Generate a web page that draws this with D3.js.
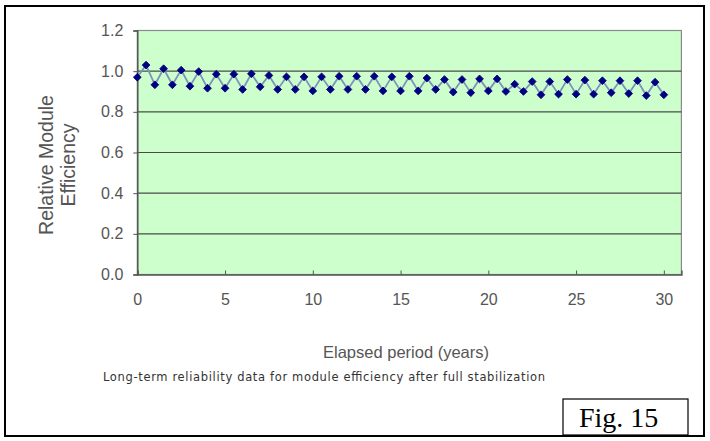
<!DOCTYPE html>
<html>
<head>
<meta charset="utf-8">
<script src="https://cdn.jsdelivr.net/npm/d3@7"></script>
<style>
  html, body { margin: 0; padding: 0; background: #fff; }
  svg { display: block; }
</style>
</head>
<body>
<svg id="chart" width="710" height="441"></svg>
<script>
// ---- data ----
const years = [0,0.5,1,1.5,2,2.5,3,3.5,4,4.5,5,5.5,6,6.5,7,7.5,8,8.5,9,9.5,10,10.5,11,11.5,12,12.5,13,13.5,14,14.5,15,15.5,16,16.5,17,17.5,18,18.5,19,19.5,20,20.5,21,21.5,22,22.5,23,23.5,24,24.5,25,25.5,26,26.5,27,27.5,28,28.5,29,29.5,30];
const efficiency = [0.97,1.03,0.933,1.012,0.933,1.005,0.926,0.998,0.916,0.985,0.916,0.985,0.91,0.987,0.923,0.979,0.91,0.972,0.91,0.972,0.903,0.972,0.91,0.975,0.91,0.975,0.91,0.975,0.903,0.972,0.903,0.975,0.903,0.966,0.91,0.959,0.897,0.959,0.894,0.962,0.903,0.962,0.90,0.936,0.90,0.949,0.884,0.949,0.887,0.959,0.887,0.956,0.887,0.953,0.894,0.953,0.89,0.953,0.88,0.946,0.884];
const yTicks = [0,0.2,0.4,0.6,0.8,1.0,1.2];
const xTicks = [0,5,10,15,20,25,30];
const yTitleLines = ["Relative Module","Efficiency"];
const xTitle = "Elapsed period (years)";
const caption = "Long-term reliability data for module efficiency after full stabilization";
const figLabel = "Fig. 15";

// ---- layout ----
const svg = d3.select("#chart");
const plot = {left: 137.3, right: 681.4, top: 30.5, bottom: 274.5};
const x = d3.scaleLinear().domain([0,31]).range([plot.left, plot.right]);
const y = d3.scaleLinear().domain([0,1.2]).range([plot.bottom, plot.top]);

// outer frame
svg.append("rect").attr("x",5).attr("y",6).attr("width",699).attr("height",430)
  .attr("fill","#fff").attr("stroke","#000").attr("stroke-width",2);

// plot background
svg.append("rect").attr("x",plot.left).attr("y",plot.top)
  .attr("width",plot.right-plot.left).attr("height",plot.bottom-plot.top)
  .attr("fill","#ccffcc").attr("stroke","#8a8a8a").attr("stroke-width",1.2);

// gridlines
svg.append("g").selectAll("line").data(yTicks.filter(d=>d>0 && d<1.2)).join("line")
  .attr("x1",plot.left).attr("x2",plot.right)
  .attr("y1",d=>y(d)).attr("y2",d=>y(d))
  .attr("stroke","#4a4a4a").attr("stroke-width",1.2);

// y axis
const yAxis = d3.axisLeft(y).tickValues(yTicks).tickFormat(d3.format(".1f")).tickSize(4).tickPadding(10);
const gy = svg.append("g").attr("transform",`translate(${plot.left},0)`).call(yAxis);
gy.select(".domain").attr("stroke","#555").attr("stroke-width",1.5);
gy.selectAll(".tick line").attr("stroke","#555");
gy.selectAll(".tick text").attr("font-family","Liberation Sans, Arial, sans-serif")
  .attr("font-size",16).attr("fill","#555");

// x axis
const xAxis = d3.axisBottom(x).tickValues(xTicks).tickFormat(d3.format("d")).tickSize(-4).tickPadding(19);
const gx = svg.append("g").attr("transform",`translate(0,${plot.bottom})`).call(xAxis);
gx.select(".domain").attr("stroke","#555").attr("stroke-width",1.5);
gx.selectAll(".tick line").attr("stroke","#555");
gx.selectAll(".tick text").attr("font-family","Liberation Sans, Arial, sans-serif")
  .attr("font-size",16).attr("fill","#555");

// line
const line = d3.line().x((d,i)=>x(years[i])).y(d=>y(d));
svg.append("path").datum(efficiency).attr("d",line)
  .attr("fill","none").attr("stroke","#7d92bb").attr("stroke-width",1.8);

// markers (diamonds = rotated squares)
const sym = d3.symbol().type(d3.symbolSquare).size(30);
svg.append("g").selectAll("path").data(efficiency).join("path")
  .attr("d",sym)
  .attr("transform",(d,i)=>`translate(${x(years[i])},${y(d)}) rotate(45)`)
  .attr("fill","#000080").attr("stroke","#000080").attr("stroke-width",0.8)
  .attr("stroke-linejoin","round");

// y title
const yt = svg.append("text").attr("transform","translate(58,165) rotate(-90)")
  .attr("text-anchor","middle").attr("font-family","Liberation Sans, Arial, sans-serif")
  .attr("font-size",19.5).attr("fill","#555");
yTitleLines.forEach((t,i)=>{
  yt.append("tspan").attr("x",0).attr("dy", i===0 ? "-0.25em" : "1.1em").text(t);
});

// x title
svg.append("text").attr("x",406).attr("y",358).attr("text-anchor","middle")
  .attr("font-family","Liberation Sans, Arial, sans-serif").attr("font-size",16.5)
  .attr("fill","#555").text(xTitle);

// caption
svg.append("text").attr("x",103).attr("y",381)
  .attr("font-family","DejaVu Sans, Verdana, sans-serif").attr("font-size",11.5)
  .attr("textLength",442).attr("lengthAdjust","spacing")
  .attr("fill","#333").text(caption);

// figure label box
svg.append("rect").attr("x",563).attr("y",399).attr("width",125).attr("height",36)
  .attr("fill","#fff").attr("stroke","#000").attr("stroke-width",1.2);
svg.append("text").attr("x",579).attr("y",427)
  .attr("font-family","Liberation Serif, Times New Roman, serif").attr("font-size",28)
  .attr("fill","#000").text(figLabel);
</script>
</body>
</html>
